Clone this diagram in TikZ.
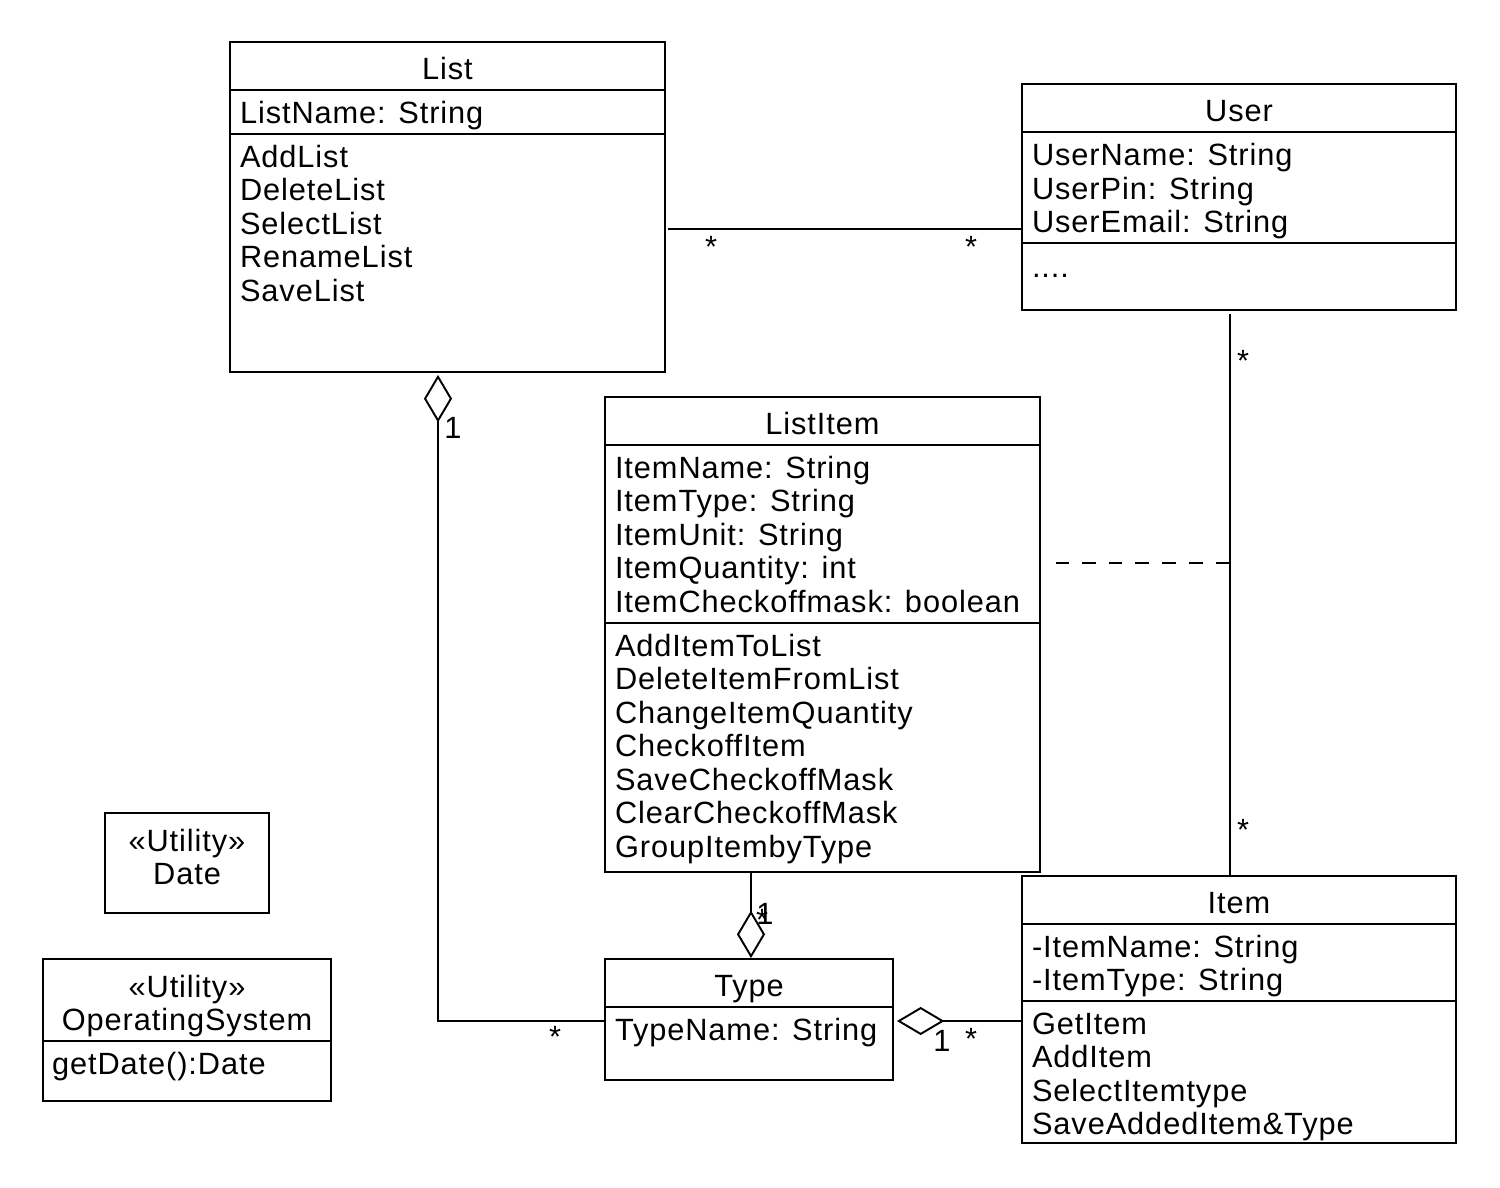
\documentclass[tikz,border=0pt]{standalone}
\usepackage{fontspec}
\setmainfont{Liberation Sans}[LetterSpace=3]
\usepackage{tikz}
\usetikzlibrary{arrows.meta}
\usetikzlibrary{positioning}
\usetikzlibrary{calc}

\newcommand{\classline}[2]{\draw ($(#1.north west)+(0,#2)$) -- ($(#1.north east)+(0,#2)$);}

\begin{document}
\begin{tikzpicture}[x=0.02cm,y=-0.02cm,line width=1.1pt,
    every node/.style={font=\fontsize{17.5}{19.1}\selectfont},
    classbox/.style={draw,rectangle,inner sep=0pt},
    title/.style={anchor=base,inner sep=0pt},
    members/.style={anchor=north west,align=left,inner sep=0pt},
    mult/.style={anchor=base,inner sep=0pt},
    aggrstart/.style={{Diamond[open,length=27pt,width=16pt]}-},
    aggrend/.style={-{Diamond[open,length=27pt,width=16pt]}}]
    \useasboundingbox (0,0) rectangle (1500,1187);

    % List
    \node[classbox,minimum width=8.7cm,minimum height=6.6cm] (list) at (447.5,207) {};
    \node[title] (listtitle) at ($(list.north)+(0,38.5)$) {List};
    \classline{list}{49}
    \classline{list}{93}
    \node[members] (listattr) at ($(list.north west)+(10,58)$) {\strut ListName: String};
    \node[members] (listops) at ($(list.north west)+(10,101.5)$) {\strut AddList\\DeleteList\\SelectList\\RenameList\\SaveList};

    % User
    \node[classbox,minimum width=8.68cm,minimum height=4.52cm] (user) at (1239,197) {};
    \node[title] (usertitle) at ($(user.north)+(0,38.5)$) {User};
    \classline{user}{49}
    \classline{user}{160}
    \node[members] (userattr) at ($(user.north west)+(10,58)$) {\strut UserName: String\\UserPin: String\\UserEmail: String};
    \node[members] (userops) at ($(user.north west)+(10,169.5)$) {\strut ....};

    % ListItem
    \node[classbox,minimum width=8.7cm,minimum height=9.5cm] (listitem) at (822.5,634.5) {};
    \node[title] (listitemtitle) at ($(listitem.north)+(0,38.5)$) {ListItem};
    \classline{listitem}{49}
    \classline{listitem}{227}
    \node[members] (listitemattr) at ($(listitem.north west)+(10,57.5)$) {\strut ItemName: String\\ItemType: String\\ItemUnit: String\\ItemQuantity: int\\ItemCheckoffmask: boolean};
    \node[members] (listitemops) at ($(listitem.north west)+(10,235.5)$) {\strut AddItemToList\\DeleteItemFromList\\ChangeItemQuantity\\CheckoffItem\\SaveCheckoffMask\\ClearCheckoffMask\\GroupItembyType};

    % Type
    \node[classbox,minimum width=5.76cm,minimum height=2.42cm] (type) at (749,1019.5) {};
    \node[title] (typetitle) at ($(type.north)+(0,38.5)$) {Type};
    \classline{type}{49}
    \node[members] (typeattr) at ($(type.north west)+(10,58)$) {\strut TypeName: String};

    % Item
    \node[classbox,minimum width=8.68cm,minimum height=5.34cm] (item) at (1239,1009.5) {};
    \node[title] (itemtitle) at ($(item.north)+(0,38.5)$) {Item};
    \classline{item}{49}
    \classline{item}{126}
    \node[members] (itemattr) at ($(item.north west)+(10,57.5)$) {\strut -ItemName: String\\-ItemType: String};
    \node[members] (itemops) at ($(item.north west)+(10,134.5)$) {\strut GetItem\\AddItem\\SelectItemtype\\SaveAddedItem\&Type};

    % utilities
    \node[classbox,minimum width=3.28cm,minimum height=2cm] (date) at (187,863) {};
    \node[anchor=north,align=center,inner sep=0pt] (datetitle) at ($(date.north)+(0,14.5)$) {\strut «Utility»\\Date};
    \node[classbox,minimum width=5.76cm,minimum height=2.84cm] (os) at (187,1030) {};
    \node[anchor=north,align=center,inner sep=0pt] (ostitle) at ($(os.north)+(0,14.5)$) {\strut «Utility»\\OperatingSystem};
    \classline{os}{83}
    \node[members] (osops) at ($(os.north west)+(9,91.5)$) {\strut getDate():Date};

    % connectors
    \draw ($(list.east)+(2,22)$) -- ($(user.west)+(0,32)$);
    \draw ($(user.south)+(-9,3)$) -- coordinate[pos=0.444] (assoc) ($(item.north)+(-9,0)$);
    \draw[dash pattern=on 7.9pt off 7.4pt] (assoc) -- ([xshift=0.3cm]assoc -| listitem.east);
    \draw[aggrstart] ($(list.south)+(-9.5,2)$) |- ($(type.west)+(0,1.5)$);
    \draw[aggrend] ($(listitem.south)+(-71.5,0)$) -- ($(type.north)+(2,0)$);
    \draw[aggrstart] ($(type.east)+(3,1.5)$) -- ($(item.west)+(0,11.5)$);

    % multiplicities
    \node[mult] (m1) at (711,257) {*};
    \node[mult] (m2) at (971,257) {*};
    \node[mult] (m3) at (1243,371) {*};
    \node[mult] (m4) at (1243,840) {*};
    \node[mult] (m5) at (453,438) {1};
    \node[mult] (m6) at (555,1047) {*};
    \node[mult] (m7) at (765,924) {1};
    \node[mult] (m8) at (762,930) {*};
    \node[mult] (m9) at (942,1051) {1};
    \node[mult] (m10) at (971,1049) {*};
\end{tikzpicture}
\end{document}
